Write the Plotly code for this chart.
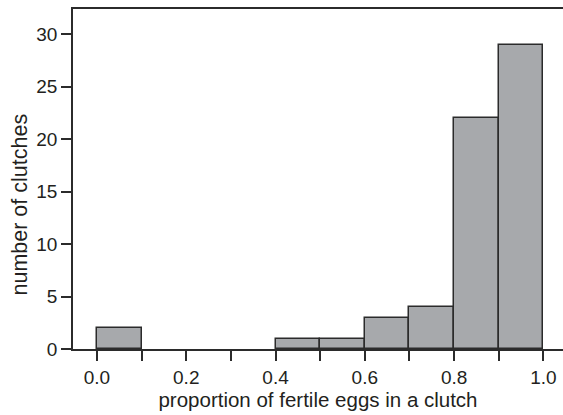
import plotly.graph_objects as go

bin_left = [0.0, 0.1, 0.2, 0.3, 0.4, 0.5, 0.6, 0.7, 0.8, 0.9]
counts = [2, 0, 0, 0, 1, 1, 3, 4, 22, 29]
bin_width = 0.1
x_ticks = [0.0, 0.2, 0.4, 0.6, 0.8, 1.0]
y_ticks = [0, 5, 10, 15, 20, 25, 30]
x_title = "proportion of fertile eggs in a clutch"
y_title = "number of clutches"

pairs = [(b + bin_width / 2, c) for b, c in zip(bin_left, counts) if c > 0]
centers = [p[0] for p in pairs]
heights = [p[1] for p in pairs]

fig = go.Figure(go.Bar(
    x=centers, y=heights, width=[bin_width] * len(centers),
    marker=dict(color="#a7a9ac", line=dict(color="#2b2b2b", width=1.5)),
))

fam = "Liberation Sans, Arial, sans-serif"
col = "#231f20"
fig.update_layout(
    width=563, height=415,
    margin=dict(l=73, r=0, t=9, b=66),
    paper_bgcolor="white", plot_bgcolor="white",
    font=dict(family=fam, size=18, color=col), showlegend=False, bargap=0,
)
fig.update_xaxes(
    range=[-0.0537, 1.044],
    tickvals=x_ticks, ticktext=[f"{v:.1f}" for v in x_ticks],
    tickfont=dict(family=fam, size=19, color=col),
    ticks="outside", ticklen=10, tickwidth=1.5, tickcolor="#2b2b2b",
    minor=dict(dtick=0.1, tick0=0, ticks="outside", ticklen=10, tickwidth=1.5, tickcolor="#2b2b2b"),
    showline=True, linecolor="#2b2b2b", linewidth=1.5, mirror=True,
    showgrid=False, zeroline=False,
    title=dict(text=x_title, standoff=3, font=dict(family=fam, size=20.5, color=col)),
)
fig.update_yaxes(
    range=[0, 32.4],
    tickvals=y_ticks,
    tickfont=dict(family=fam, size=19, color=col),
    ticks="outside", ticklen=10, tickwidth=1.5, tickcolor="#2b2b2b",
    showline=True, linecolor="#2b2b2b", linewidth=1.5,
    showgrid=False, zeroline=False,
)
fig.add_annotation(
    text=y_title, textangle=-90, showarrow=False,
    xref="paper", yref="paper", x=0, y=0.425,
    xanchor="center", yanchor="middle", xshift=-53,
    font=dict(family=fam, size=21.5, color=col),
)

fig.write_html("out.html")
